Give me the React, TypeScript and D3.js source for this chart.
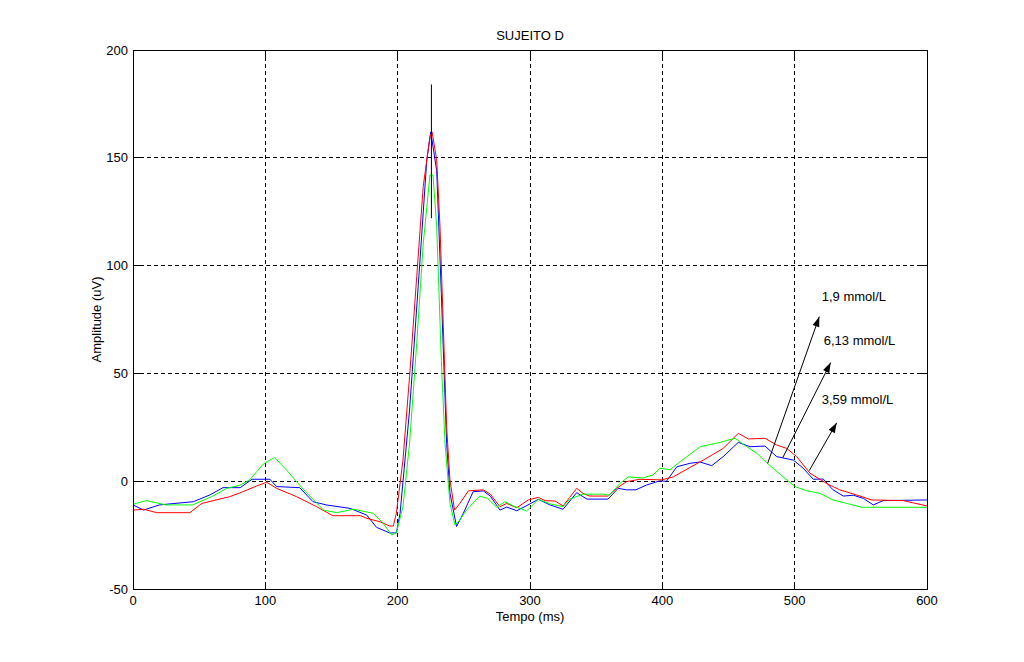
import React from "react";
import * as d3 from "d3";

type P = [number, number];

const title = "SUJEITO D";
const xLabel = "Tempo (ms)";
const yLabel = "Amplitude (uV)";
const xTicks = [0, 100, 200, 300, 400, 500, 600];
const yTicks = [-50, 0, 50, 100, 150, 200];

const redSeries: P[] = [
  [0, -13.4], [8, -13], [18, -14.6], [43, -14.6], [52, -10.3], [73, -7.2], [83, -4.9], [93.5, -2.2],
  [101, -0.5], [108.5, -3.3], [123.7, -7.2], [138.7, -11.8], [151, -16], [172, -16], [176.6, -17.2],
  [186.6, -18.8], [194, -20.8], [196.7, -20.8], [199, -14.9], [204, 9.8], [209, 48.5], [214.4, 94.9],
  [219.3, 136.6], [224.4, 159.8], [226, 162], [229.5, 149], [232, 118], [234.5, 71.7], [237, 25.3],
  [239.5, 0.6], [243, -13.4], [247, -10.3], [253.4, -4.5], [264.7, -4], [270, -6], [277.3, -11.8],
  [282.4, -10.3], [290, -12.3], [298.7, -8.7], [306.3, -7.5], [311.4, -9], [319, -9.2], [325, -11.5],
  [330, -7.5], [335.3, -3.3], [340, -5.6], [345, -6.9], [359, -6.9], [365.5, -3.3], [373, -0.2],
  [383, 0.9], [399.5, 0.6], [408.3, 2], [421, 6.4], [431, 9.8], [446, 15.2], [457.4, 22.2], [465, 19.6],
  [477.6, 19.9], [486.4, 16.8], [494, 15.2], [501.5, 11.4], [511.6, 3.7], [524, -1], [534, -4],
  [546.9, -6.4], [558.2, -8.7], [582, -9], [600, -11.5],
];

const blueSeries: P[] = [
  [0, -11], [8, -13.4], [20, -11], [45.6, -9.5], [58, -6.4], [68, -3], [81, -3], [90, 0.9], [103.5, 0.9],
  [108.5, -2.5], [126, -3], [136, -9.5], [146, -11], [164, -12.6], [176.6, -15.7], [184, -21.4],
  [194, -24], [199, -24], [201.8, -15], [209, 33], [216.9, 102.6], [222, 149], [225, 162], [229.5, 144],
  [233, 87], [237, 17.6], [239.5, -5.5], [244.5, -21], [249.6, -14.9], [257, -4.9], [264.7, -4.5],
  [270, -6.9], [277.3, -13.4], [282.4, -12], [290, -13.7], [297, -11.5], [306.3, -8.4], [315, -11],
  [325, -13], [335.3, -5.3], [343, -8.3], [359, -8.3], [366.6, -3.3], [373, -4], [380, -4], [388, -1.8],
  [398.2, 0.2], [403, -0.1], [411, 6.7], [421, 8.3], [428.5, 8.9], [437.3, 7.2], [446, 11.4],
  [457.4, 18], [466.2, 16], [477.6, 16.3], [486.4, 11.4], [499, 9.8], [506.5, 6], [514, 0.9],
  [521.6, 1], [529, -4], [536.8, -6.9], [544.4, -6.5], [552, -8], [559.4, -11], [567, -9], [600, -8.7],
];

const greenSeries: P[] = [
  [0, -10.7], [10, -9], [25, -11], [45, -11], [60, -7], [71, -3.3], [81, -1.8], [88, 0.5], [98.5, 8],
  [107, 11], [116, 5.2], [129, -4], [144, -13.4], [154, -14.6], [166.5, -13], [181.6, -14.9],
  [189, -19.5], [195.5, -25], [199, -24], [204, -11.8], [209, 17.6], [214.4, 64], [219.3, 110],
  [224.4, 142], [226.7, 142], [229.5, 118], [233, 56], [235.8, 17.6], [239.5, -10.3], [243.3, -20.3],
  [247, -18], [252, -13.4], [262, -6.9], [268, -8], [274.8, -12.1], [281, -9.5], [287.5, -11.5],
  [297.5, -13.8], [306.3, -8.4], [315, -10.5], [325, -11.8], [330, -8.3], [340, -6], [355, -6],
  [360, -6.5], [368, -1], [374.3, 2], [385, 1.5], [393, 2.9], [398.2, 6], [405.8, 5.3], [413.4, 9],
  [428.5, 16], [443.6, 18], [455, 19.9], [463.8, 16], [471.3, 13], [478.9, 8.6], [489, 3.2],
  [500.3, -2.5], [509, -4.4], [519, -5.6], [529, -8.7], [539.3, -10.3], [550.6, -12.1], [600, -12.1],
];

// vertical marker line at the peak: [time, yFrom, yTo]
const markerLine: [number, number, number] = [225.5, 122, 184];

// annotations: label, arrow start (t, v), arrow tip (t, v)
const annLabels = ["1,9 mmol/L", "6,13 mmol/L", "3,59 mmol/L"];
const annStarts: P[] = [[479.6, 8.3], [491, 10.9], [511, 4.9]];
const annTips: P[] = [[518.6, 76.3], [527.2, 55], [531.8, 27.1]];
const annLabelPos: P[] = [[520.5, 83.5], [522, 63], [520.5, 36]];

const W = 1024;
const H = 662;
const L = 133, R = 927, T = 50, B = 589;
const FONT = "'Liberation Sans', Arial, Helvetica, sans-serif";

export default function App() {
  const x = d3.scaleLinear().domain([0, 600]).range([L, R]);
  const y = d3.scaleLinear().domain([-50, 200]).range([B, T]);
  const line = d3.line<P>().x((d) => x(d[0])).y((d) => y(d[1]));

  const arrowHead = (s: P, t: P) => {
    const x1 = x(s[0]), y1 = y(s[1]), x2 = x(t[0]), y2 = y(t[1]);
    const ang = Math.atan2(y2 - y1, x2 - x1);
    const len = 10, half = 3.5;
    const bx = x2 - len * Math.cos(ang), by = y2 - len * Math.sin(ang);
    const px = -Math.sin(ang) * half, py = Math.cos(ang) * half;
    return `M${x2},${y2}L${bx + px},${by + py}L${bx - px},${by - py}Z`;
  };

  return (
    <svg width={W} height={H} style={{ position: "absolute", left: 0, top: 0, background: "#fff" }}
      fontFamily={FONT} fontSize={13}>
      <rect x={0} y={0} width={W} height={H} fill="#fff" />
      {/* grid */}
      {xTicks.slice(1, -1).map((t) => (
        <line key={"gx" + t} x1={x(t)} x2={x(t)} y1={T} y2={B} stroke="#000" strokeDasharray="4,3" shapeRendering="crispEdges" />
      ))}
      {yTicks.slice(1, -1).map((t) => (
        <line key={"gy" + t} x1={L} x2={R} y1={y(t)} y2={y(t)} stroke="#000" strokeDasharray="4,3" shapeRendering="crispEdges" />
      ))}
      {/* ticks */}
      {xTicks.map((t) => (
        <g key={"tx" + t}>
          <line x1={x(t)} x2={x(t)} y1={B} y2={B - 7} stroke="#000" shapeRendering="crispEdges" />
          <line x1={x(t)} x2={x(t)} y1={T} y2={T + 7} stroke="#000" shapeRendering="crispEdges" />
          <text x={x(t)} y={B + 16} textAnchor="middle">{t}</text>
        </g>
      ))}
      {yTicks.map((t) => (
        <g key={"ty" + t}>
          <line x1={L} x2={L + 7} y1={y(t)} y2={y(t)} stroke="#000" shapeRendering="crispEdges" />
          <line x1={R} x2={R - 7} y1={y(t)} y2={y(t)} stroke="#000" shapeRendering="crispEdges" />
          <text x={L - 5} y={y(t) + 4.5} textAnchor="end">{t}</text>
        </g>
      ))}
      {/* series */}
      <path d={line(blueSeries) || ""} fill="none" stroke="#0000ff" strokeWidth={1} />
      <path d={line(redSeries) || ""} fill="none" stroke="#ff0000" strokeWidth={1} />
      <path d={line(greenSeries) || ""} fill="none" stroke="#00ff00" strokeWidth={1} />
      {/* marker */}
      <line x1={x(markerLine[0])} x2={x(markerLine[0])} y1={y(markerLine[1])} y2={y(markerLine[2])} stroke="#000" />
      {/* annotations */}
      {annLabels.map((lab, i) => (
        <g key={lab}>
          <line x1={x(annStarts[i][0])} y1={y(annStarts[i][1])} x2={x(annTips[i][0])} y2={y(annTips[i][1])} stroke="#000" />
          <path d={arrowHead(annStarts[i], annTips[i])} fill="#000" />
          <text x={x(annLabelPos[i][0])} y={y(annLabelPos[i][1])}>{lab}</text>
        </g>
      ))}
      {/* box */}
      <rect x={L} y={T} width={R - L} height={B - T} fill="none" stroke="#000" shapeRendering="crispEdges" />
      {/* labels */}
      <text x={(L + R) / 2} y={40} textAnchor="middle">{title}</text>
      <text x={(L + R) / 2} y={621} textAnchor="middle">{xLabel}</text>
      <text transform={`translate(101,${(T + B) / 2}) rotate(-90)`} textAnchor="middle">{yLabel}</text>
    </svg>
  );
}
